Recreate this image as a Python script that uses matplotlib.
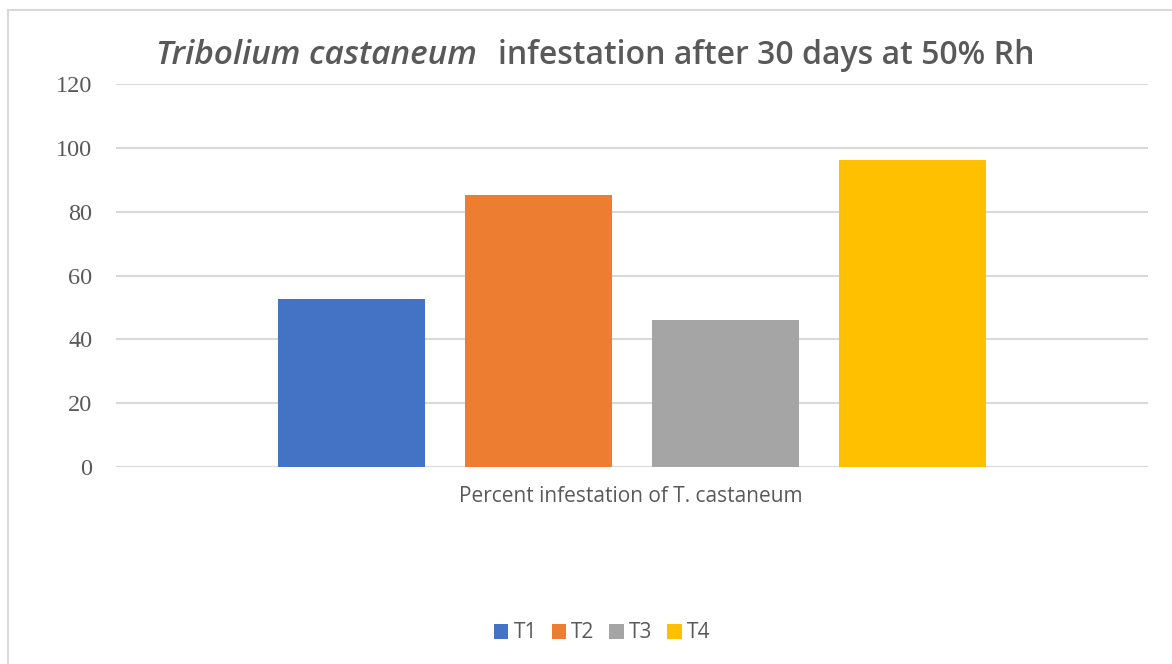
import matplotlib
matplotlib.use("Agg")
import matplotlib.pyplot as plt
from matplotlib.patches import Patch, Rectangle

# data
series = ["T1", "T2", "T3", "T4"]
values = [52.6, 85.3, 46.0, 96.1]
colors = ["#4472C4", "#ED7D31", "#A5A5A5", "#FFC000"]
category = "Percent infestation of T. castaneum"
yticks = [0, 20, 40, 60, 80, 100, 120]

W, H = 1172, 664
TXT = "#595959"
fig = plt.figure(figsize=(W / 100, H / 100), dpi=100, facecolor="white")

# chart frame (cut off at right/bottom like the screenshot)
fig.patches.append(Rectangle((8 / W, -0.1), 1.2, (H - 10) / H + 0.1, transform=fig.transFigure,
                             fill=False, edgecolor="#d9d9d9", linewidth=1.5))

ax = fig.add_axes([116 / W, 197 / H, (1148 - 116) / W, (467 - 84) / H])
pos = [-1.5, -0.5, 0.5, 1.5]
ax.bar(pos, values, width=0.786, color=colors, zorder=3)
ax.set_xlim(-2.76, 2.76)
ax.set_ylim(0, 120)
ax.set_yticks(yticks)
ax.set_yticklabels([str(t) for t in yticks], fontfamily="Liberation Serif", fontsize=17.5, color=TXT)
ax.tick_params(axis="y", length=0, pad=17)
ax.set_xticks([])
ax.grid(axis="y", color="#d9d9d9", linewidth=1.5, zorder=0)
for s in ax.spines.values():
    s.set_visible(False)

fig.text(631 / W, 1 - 497 / H, category, ha="center", va="center",
         fontfamily="Open Sans", fontsize=15, color=TXT)

# title: italic species name + regular rest
ty = 1 - 55 / H
fig.text(477 / W, ty, "Tribolium castaneum", ha="right", va="center", style="italic",
         fontfamily="Open Sans", fontsize=24, fontweight="semibold", color=TXT)
fig.text(498 / W, ty, "infestation after 30 days at 50% Rh", ha="left", va="center",
         fontfamily="Open Sans", fontsize=23, fontweight="semibold", color=TXT)

handles = [Patch(facecolor=c, edgecolor="none") for c in colors]
fig.legend(handles, series, loc="center", bbox_to_anchor=(602 / W, 1 - 633 / H), ncol=4,
           frameon=False, handlelength=0.7, handleheight=0.7, handletextpad=0.25,
           columnspacing=0.7, prop={"family": "Open Sans", "size": 15}, labelcolor=TXT)

fig.savefig("out.png", dpi=100, facecolor="white")
